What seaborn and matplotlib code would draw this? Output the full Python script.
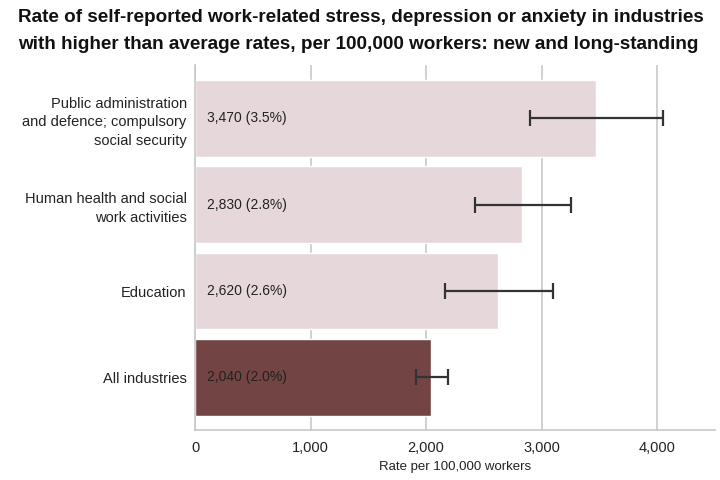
import matplotlib
matplotlib.use('Agg')
import matplotlib.pyplot as plt
import seaborn as sns
import pandas as pd
from matplotlib.ticker import FuncFormatter

industries = ['Public administration\nand defence; compulsory\nsocial security',
              'Human health and social\nwork activities',
              'Education',
              'All industries']
rates = [3470, 2830, 2620, 2040]
pct_labels = ['3,470 (3.5%)', '2,830 (2.8%)', '2,620 (2.6%)', '2,040 (2.0%)']
ci_low = [2900, 2420, 2160, 1910]
ci_high = [4050, 3250, 3100, 2190]
bar_colors = ['#e8d6d8', '#e8d6d8', '#e8d6d8', '#7a3c3d']

sns.set_style('white')
plt.rcParams['font.family'] = ['Liberation Sans', 'DejaVu Sans']

df = pd.DataFrame({'industry': industries, 'rate': rates})

fig = plt.figure(figsize=(7.2, 4.8), dpi=100)
ax = fig.add_axes([195 / 720, 50 / 480, 520 / 720, 365 / 480])

sns.barplot(data=df, x='rate', y='industry', hue='industry', palette=bar_colors,
            legend=False, width=0.89, ax=ax, zorder=2)

# confidence intervals
for i, (lo, hi, r) in enumerate(zip(ci_low, ci_high, rates)):
    ax.errorbar(r, i, xerr=[[r - lo], [hi - r]], fmt='none', ecolor='#333333',
                elinewidth=1.6, capsize=6, capthick=1.6, zorder=3)

for i, lab in enumerate(pct_labels):
    ax.text(100, i, lab, va='center', ha='left', fontsize=10, color='#222222', zorder=4)

ax.set_xlim(0, 4500)
ax.set_ylim(3.61, -0.62)
ax.set_xticks([0, 1000, 2000, 3000, 4000])
ax.xaxis.set_major_formatter(FuncFormatter(lambda v, p: f'{int(v):,}'))
ax.grid(axis='x', color='#c8c8c8', linewidth=1.2, zorder=0)
ax.set_axisbelow(True)
for s in ['top', 'right']:
    ax.spines[s].set_visible(False)
for s in ['left', 'bottom']:
    ax.spines[s].set_color('#c8c8c8')
    ax.spines[s].set_linewidth(1.2)
ax.tick_params(axis='y', length=3, color='#c8c8c8', labelsize=10.5, labelcolor='#222222', pad=3)
ax.tick_params(axis='x', length=0, labelsize=10.5, labelcolor='#222222', pad=8)
for t in ax.get_yticklabels():
    t.set_linespacing(1.45)
ax.set_ylabel('')
ax.set_xlabel('Rate per 100,000 workers', fontsize=9.5, color='#222222', labelpad=4)

fig.text(18 / 720, 1 - 9 / 480,
         'Rate of self-reported work-related stress, depression or anxiety in industries\n'
         'with higher than average rates, per 100,000 workers: new and long-standing',
         ha='left', va='top', fontsize=13.6, fontweight='bold', color='#111111', linespacing=1.75)

fig.savefig('out.png', dpi=100)
